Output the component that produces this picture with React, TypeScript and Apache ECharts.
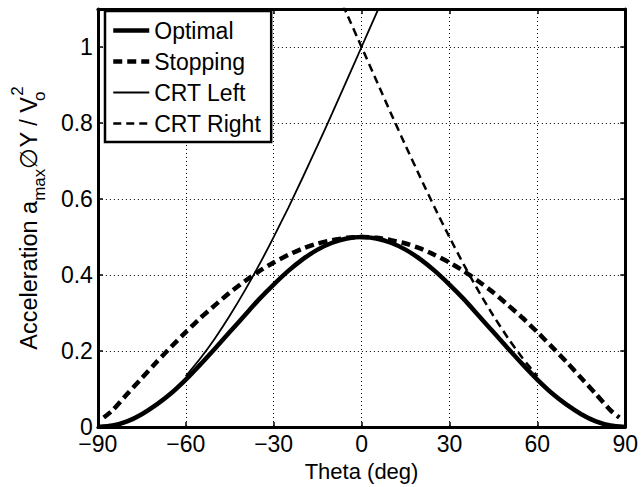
import React, { useEffect, useRef } from "react";
import * as echarts from "echarts";

// Theta (deg) sample positions and values
const thetaOptimal = [-90, -85, -80, -75, -70, -65, -60, -55, -50, -45, -40, -35, -30, -25, -20, -15, -10, -5, 0, 5, 10, 15, 20, 25, 30, 35, 40, 45, 50, 55, 60, 65, 70, 75, 80, 85, 90];
const optimal = [0, 0.004, 0.015, 0.034, 0.059, 0.089, 0.125, 0.165, 0.207, 0.25, 0.293, 0.336, 0.375, 0.411, 0.442, 0.467, 0.485, 0.496, 0.5, 0.496, 0.485, 0.467, 0.442, 0.411, 0.375, 0.336, 0.293, 0.25, 0.207, 0.165, 0.125, 0.089, 0.059, 0.034, 0.015, 0.004, 0];

const thetaStopping = [-88, -85, -80, -75, -70, -65, -60, -55, -50, -45, -40, -35, -30, -25, -20, -15, -10, -5, 0, 5, 10, 15, 20, 25, 30, 35, 40, 45, 50, 55, 60, 65, 70, 75, 80, 85, 88];
const stopping = [0.025, 0.044, 0.087, 0.129, 0.171, 0.211, 0.25, 0.287, 0.321, 0.354, 0.383, 0.41, 0.433, 0.453, 0.47, 0.483, 0.492, 0.498, 0.5, 0.498, 0.492, 0.483, 0.47, 0.453, 0.433, 0.41, 0.383, 0.354, 0.321, 0.287, 0.25, 0.211, 0.171, 0.129, 0.087, 0.044, 0.025];

const thetaCrtLeft = [-60, -55, -50, -45, -40, -35, -30, -25, -20, -15, -10, -5, 0, 5, 10];
const crtLeft = [0.134, 0.181, 0.234, 0.293, 0.357, 0.426, 0.5, 0.577, 0.658, 0.741, 0.826, 0.913, 1.0, 1.087, 1.174];

const thetaCrtRight = [-10, -5, 0, 5, 10, 15, 20, 25, 30, 35, 40, 45, 50, 55, 60];
const crtRight = [1.174, 1.087, 1.0, 0.913, 0.826, 0.741, 0.658, 0.577, 0.5, 0.426, 0.357, 0.293, 0.234, 0.181, 0.134];

const seriesNames = ["Optimal", "Stopping", "CRT Left", "CRT Right"];

const FONT = "'Liberation Sans', Arial, Helvetica, sans-serif";

function pairs(xs: number[], ys: number[]) {
  return xs.map((x, i) => [x, ys[i]]);
}

const styles = [
  { width: 4.5, type: "solid" as any },
  { width: 4.5, type: [9, 5] as any },
  { width: 1.8, type: "solid" as any },
  { width: 2.5, type: [8, 5] as any },
];

export default function App() {
  const ref = useRef<HTMLDivElement>(null);
  useEffect(() => {
    const chart = echarts.init(ref.current!, null, { renderer: "svg" });
    const dataSets = [
      pairs(thetaOptimal, optimal),
      pairs(thetaStopping, stopping),
      pairs(thetaCrtLeft, crtLeft),
      pairs(thetaCrtRight, crtRight),
    ];
    const axisCommon = {
      axisLine: { show: true, onZero: false, lineStyle: { color: "#000", width: 3 } },
      axisTick: { show: true, inside: true, length: 5, lineStyle: { color: "#000", width: 1.5 } },
    };
    chart.setOption({
      animation: false,
      backgroundColor: "#fff",
      grid: { left: 96, right: 13, top: 9, bottom: 57, containLabel: false },
      legend: {
        show: true,
        orient: "vertical",
        left: 105,
        top: 11,
        backgroundColor: "#fff",
        borderColor: "#000",
        borderWidth: 2.5,
        borderRadius: 0,
        padding: [8, 10, 7, 6],
        itemWidth: 36,
        itemHeight: 14,
        itemGap: 8,
        itemStyle: { color: "rgba(0,0,0,0)", borderWidth: 0, opacity: 0 },
        textStyle: { color: "#000", fontSize: 23, fontFamily: FONT, lineHeight: 23 },
        data: seriesNames.map((n, i) => ({
          name: n,
          itemStyle: { color: "rgba(0,0,0,0)", borderWidth: 0, opacity: 0 },
          lineStyle: { color: "#000", width: styles[i].width, type: styles[i].type, opacity: 1 },
        })),
      },
      xAxis: [
        {
          type: "value",
          min: -90,
          max: 90,
          interval: 30,
          position: "bottom",
          ...axisCommon,
          axisLabel: {
            color: "#000",
            fontSize: 23,
            fontFamily: FONT,
            margin: 5,
            formatter: (v: number) => (v < 0 ? "\u2212" + Math.abs(v) : String(v)),
          },
          splitLine: { show: true, lineStyle: { color: "#000", width: 1, type: [1, 3] } },
          name: "Theta (deg)",
          nameLocation: "middle",
          nameGap: 20,
          nameTextStyle: { color: "#000", fontSize: 22, fontFamily: FONT },
        },
        {
          type: "value",
          min: -90,
          max: 90,
          interval: 30,
          position: "top",
          ...axisCommon,
          axisLabel: { show: false },
          splitLine: { show: false },
        },
      ],
      yAxis: [
        {
          type: "value",
          min: 0,
          max: 1.1,
          interval: 0.2,
          position: "left",
          ...axisCommon,
          axisLabel: {
            color: "#000",
            fontSize: 23,
            fontFamily: FONT,
            margin: 5,
            showMaxLabel: false,
            formatter: (v: number) => (Math.abs(v - 1.1) < 1e-6 ? "" : String(Math.round(v * 10) / 10)),
          },
          splitLine: { show: true, lineStyle: { color: "#000", width: 1, type: [1, 3] } },
          name: "{b|Acceleration a}{sub|max}{b|\u2205Y / V}{subo|o}{sup|2}",
          nameLocation: "middle",
          nameRotate: 90,
          nameGap: 40,
          nameTextStyle: {
            color: "#000",
            fontFamily: FONT,
            rich: {
              b: { fontSize: 23.5, fontFamily: FONT, color: "#000", lineHeight: 42, verticalAlign: "middle" },
              sub: { fontSize: 17, fontFamily: FONT, color: "#000", lineHeight: 17, verticalAlign: "bottom", padding: [0, 0, 2, 0] },
              subo: { fontSize: 17, fontFamily: FONT, color: "#000", lineHeight: 17, verticalAlign: "bottom", padding: [0, 0, 2, 0], width: 1 },
              sup: { fontSize: 17, fontFamily: FONT, color: "#000", lineHeight: 17, verticalAlign: "top", padding: [1, 0, 0, 0] },
            },
          },
        },
        {
          type: "value",
          min: 0,
          max: 1.1,
          interval: 0.2,
          position: "right",
          ...axisCommon,
          axisLabel: { show: false },
          splitLine: { show: false },
        },
      ],
      series: seriesNames.map((n, i) => ({
        name: n,
        type: "line",
        xAxisIndex: 0,
        yAxisIndex: 0,
        data: dataSets[i],
        symbol: "none",
        smooth: 0.2,
        clip: true,
        z: 3 + (i === 0 ? 1 : 0),
        lineStyle: { color: "#000", width: styles[i].width, type: styles[i].type, cap: "butt" },
        itemStyle: { color: "#000" },
      })),
    });
    return () => chart.dispose();
  }, []);
  return (
    <div
      ref={ref}
      style={{ position: "absolute", left: 0, top: 0, width: 641, height: 487, background: "#fff" }}
    />
  );
}
